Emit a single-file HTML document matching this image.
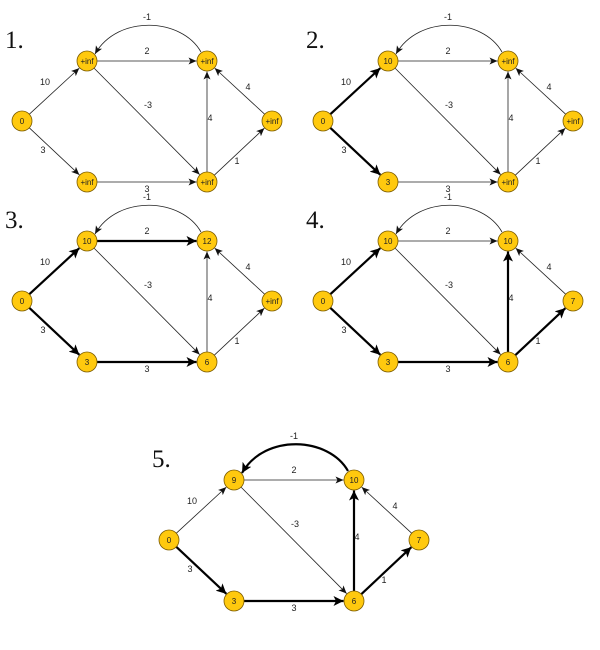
<!DOCTYPE html>
<html><head><meta charset="utf-8"><style>
html,body{margin:0;padding:0;background:#fff;width:600px;height:650px;overflow:hidden}
svg{display:block}
.t{font-family:"Liberation Sans",sans-serif;font-size:9px;fill:#222}
.n{font-family:"Liberation Sans",sans-serif;font-size:8px;fill:#222}
.h{font-family:"Liberation Serif",serif;font-size:25px;fill:#111}
</style></head><body>
<svg id="s" width="600" height="650" xmlns="http://www.w3.org/2000/svg">
<defs>
<marker id="ma" markerWidth="8" markerHeight="8" refX="8" refY="4" orient="auto" markerUnits="userSpaceOnUse"><path d="M0,0.5 L8,4 L0,7.5 L2,4z" fill="#111"/></marker>
<marker id="mb" markerWidth="10" markerHeight="10" refX="10" refY="5" orient="auto" markerUnits="userSpaceOnUse"><path d="M0,0 L10,5 L0,10 L2.5,5z" fill="#000"/></marker>
</defs>
</svg>
<script>
var s=document.getElementById('s'),NS='http://www.w3.org/2000/svg';
function el(t,a,txt){var e=document.createElementNS(NS,t);for(var k in a)e.setAttribute(k,a[k]);if(txt!=null)e.textContent=txt;s.appendChild(e);return e;}
var P={O:[22,121],A:[87,61],B:[207,61],C:[272,121],D:[87,182],E:[207,182]};
var E=[['O','A','10',45,85],['O','D','3',43,153],['A','B','2',147,54],['A','E','-3',148,108],['D','E','3',147,192],['E','B','4',210,121],['E','C','1',237,164],['C','B','4',248,90]];
var panels=[
 {dx:0,dy:0,lab:'1.',v:{O:'0',A:'+inf',B:'+inf',C:'+inf',D:'+inf',E:'+inf'},b:[]},
 {dx:301,dy:0,lab:'2.',v:{O:'0',A:'10',B:'+inf',C:'+inf',D:'3',E:'+inf'},b:['OA','OD']},
 {dx:0,dy:180,lab:'3.',v:{O:'0',A:'10',B:'12',C:'+inf',D:'3',E:'6'},b:['OA','OD','AB','DE']},
 {dx:301,dy:180,lab:'4.',v:{O:'0',A:'10',B:'10',C:'7',D:'3',E:'6'},b:['OA','OD','DE','EB','EC']},
 {dx:147,dy:419,lab:'5.',v:{O:'0',A:'9',B:'10',C:'7',D:'3',E:'6'},b:['OD','DE','EB','EC','BA']}
];
panels.forEach(function(p){
 var dx=p.dx,dy=p.dy;
 el('text',{x:5+dx,y:48+dy,'class':'h'},p.lab);
 E.forEach(function(e){
  var a=P[e[0]],b=P[e[1]],x1=a[0]+dx,y1=a[1]+dy,x2=b[0]+dx,y2=b[1]+dy;
  var L=Math.hypot(x2-x1,y2-y1),ux=(x2-x1)/L,uy=(y2-y1)/L;
  var bold=p.b.indexOf(e[0]+e[1])>=0;
  el('line',{x1:x1+ux*10,y1:y1+uy*10,x2:x2-ux*10.5,y2:y2-uy*10.5,stroke:bold?'#000':'#222','stroke-width':bold?2.2:0.8,'marker-end':bold?'url(#mb)':'url(#ma)'});
  el('text',{x:e[3]+dx,y:e[4]+dy,'class':'t','text-anchor':'middle'},e[2]);
 });
 var bb=p.b.indexOf('BA')>=0;
 el('path',{d:'M'+(201+dx)+','+(52+dy)+' C'+(182+dx)+','+(18+dy)+' '+(118+dx)+','+(14+dy)+' '+(95+dx)+','+(54+dy),fill:'none',stroke:bb?'#000':'#222','stroke-width':bb?2.2:0.8,'marker-end':bb?'url(#mb)':'url(#ma)'});
 el('text',{x:147+dx,y:20+dy,'class':'t','text-anchor':'middle'},'-1');
 for(var k in P){
  el('circle',{cx:P[k][0]+dx,cy:P[k][1]+dy,r:10,fill:'#FFC90E',stroke:'#7a5a00','stroke-width':0.8});
  el('text',{x:P[k][0]+dx,y:P[k][1]+dy+3,'class':'n','text-anchor':'middle'},p.v[k]);
 }
});
</script>
</body></html>
